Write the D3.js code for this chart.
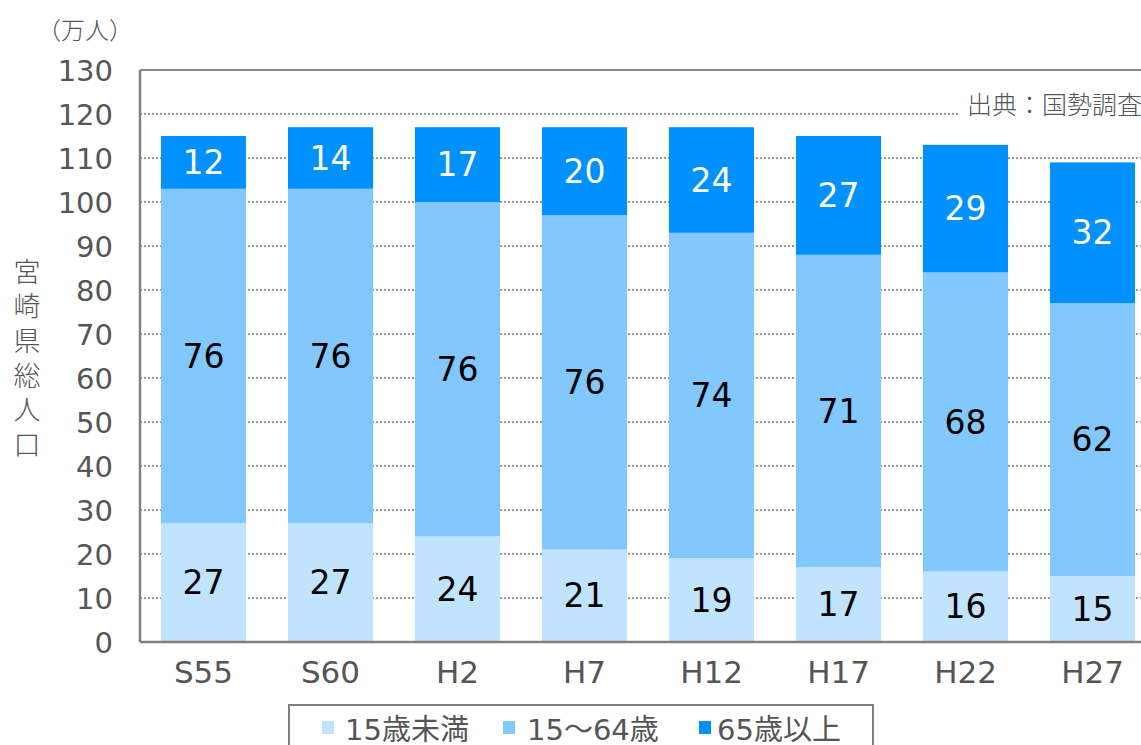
<!DOCTYPE html>
<html>
<head>
<meta charset="utf-8">
<script src="https://cdnjs.cloudflare.com/ajax/libs/d3/7.8.5/d3.min.js"></script>
<style>
  html, body { margin: 0; padding: 0; background: #fff; }
  svg { display: block; }
  text { font-family: "DejaVu Sans", "Noto Sans CJK JP", sans-serif; }
  .jp { font-family: "Noto Sans CJK JP", sans-serif; font-weight: 300; }
</style>
</head>
<body>
<svg id="chart" width="1141" height="745"></svg>
<script>
// 宮崎県 年齢3区分別人口（万人）
const categories = ["S55", "S60", "H2", "H7", "H12", "H17", "H22", "H27"];
const under15 = [27, 27, 24, 21, 19, 17, 16, 15];
const age15to64 = [76, 76, 76, 76, 74, 71, 68, 62];
const over65 = [12, 14, 17, 20, 24, 27, 29, 32];
const seriesNames = ["15歳未満", "15～64歳", "65歳以上"];
const yTicks = [0, 10, 20, 30, 40, 50, 60, 70, 80, 90, 100, 110, 120, 130];

const colors = ["#c0e3fe", "#82c8ff", "#0091ff"];
const labelColors = ["#000", "#000", "#fff"];

const svg = d3.select("#chart");
const plot = { left: 140, top: 70, bottom: 642, right: 1156 };

const x = d3.scaleBand()
  .domain(categories)
  .range([plot.left, plot.right])
  .paddingInner(0.33)
  .paddingOuter(0.165);

const y = d3.scaleLinear().domain([0, 130]).range([plot.bottom, plot.top]);

// gridlines
svg.append("g").selectAll("line")
  .data(yTicks.filter(t => t > 0 && t < 130))
  .join("line")
  .attr("x1", plot.left).attr("x2", 1141)
  .attr("y1", d => y(d)).attr("y2", d => y(d))
  .attr("stroke", "#7a7a7a").attr("stroke-width", 1.5)
  .attr("stroke-dasharray", "2,2");

// top frame line
svg.append("line")
  .attr("x1", plot.left).attr("x2", 1141)
  .attr("y1", y(130)).attr("y2", y(130))
  .attr("stroke", "#8a8a8a").attr("stroke-width", 2);

// source note
const src = svg.append("g");
src.append("rect").attr("x", 960).attr("y", 88).attr("width", 181).attr("height", 30).attr("fill", "#fff");
src.append("text")
  .attr("class", "jp")
  .attr("x", 1142).attr("y", 103)
  .attr("text-anchor", "end").attr("dominant-baseline", "central")
  .attr("font-size", 25).attr("fill", "#555")
  .text("出典：国勢調査");

// stacked data
const rows = categories.map((c, i) => ({ cat: c, a: under15[i], b: age15to64[i], c: over65[i] }));
const stack = d3.stack().keys(["a", "b", "c"]);
const layers = stack(rows);

const gBars = svg.append("g");
layers.forEach((layer, li) => {
  gBars.append("g").selectAll("rect")
    .data(layer)
    .join("rect")
    .attr("x", d => x(d.data.cat))
    .attr("width", x.bandwidth())
    .attr("y", d => y(d[1]))
    .attr("height", d => y(d[0]) - y(d[1]))
    .attr("fill", colors[li]);
  gBars.append("g").selectAll("text")
    .data(layer)
    .join("text")
    .attr("x", d => x(d.data.cat) + x.bandwidth() / 2)
    .attr("y", d => (y(d[0]) + y(d[1])) / 2)
    .attr("text-anchor", "middle").attr("dominant-baseline", "central")
    .attr("font-size", 33)
    .attr("fill", labelColors[li])
    .text(d => d[1] - d[0]);
});

// axes lines
svg.append("line")
  .attr("x1", plot.left).attr("x2", plot.left)
  .attr("y1", y(130)).attr("y2", y(0))
  .attr("stroke", "#808080").attr("stroke-width", 2.5);
svg.append("line")
  .attr("x1", plot.left).attr("x2", 1141)
  .attr("y1", y(0)).attr("y2", y(0))
  .attr("stroke", "#808080").attr("stroke-width", 2.5);

// y tick labels
const yAxis = d3.axisLeft(y).tickValues(yTicks).tickSize(0).tickPadding(27);
const gy = svg.append("g").attr("transform", `translate(${plot.left},0)`).call(yAxis);
gy.select(".domain").remove();
gy.selectAll("text")
  .attr("font-size", 29).attr("fill", "#555")
  .attr("font-family", "\"DejaVu Sans\", sans-serif")
  .attr("dy", "0.36em");

// x tick labels
const xAxis = d3.axisBottom(x).tickSize(0).tickPadding(19);
const gx = svg.append("g").attr("transform", `translate(0,${plot.bottom})`).call(xAxis);
gx.select(".domain").remove();
gx.selectAll("text")
  .attr("font-size", 31).attr("fill", "#555")
  .attr("font-family", "\"DejaVu Sans\", sans-serif");

// unit label
svg.append("text")
  .attr("class", "jp")
  .attr("x", 85).attr("y", 28)
  .attr("text-anchor", "middle").attr("dominant-baseline", "central")
  .attr("font-size", 24).attr("fill", "#555")
  .text("（万人）");

// vertical y-axis title
svg.append("text")
  .attr("class", "jp")
  .attr("x", 27).attr("y", 258)
  .style("writing-mode", "vertical-rl")
  .attr("letter-spacing", 7.6)
  .attr("font-size", 27).attr("fill", "#555")
  .text("宮崎県総人口");

// legend
const legend = svg.append("g");
legend.append("rect")
  .attr("x", 289).attr("y", 705).attr("width", 584).attr("height", 60)
  .attr("fill", "#fff").attr("stroke", "#808080").attr("stroke-width", 2);
const legendSwatchX = [322, 503, 699];
const legendTextX = [345, 527, 717];
seriesNames.forEach((name, i) => {
  legend.append("rect")
    .attr("x", legendSwatchX[i]).attr("y", 721).attr("width", 12).attr("height", 13)
    .attr("fill", colors[i]);
  legend.append("text")
    .attr("x", legendTextX[i]).attr("y", 730)
    .attr("dominant-baseline", "central")
    .attr("font-size", 29).attr("fill", "#555")
    .text(name);
});
</script>
</body>
</html>
